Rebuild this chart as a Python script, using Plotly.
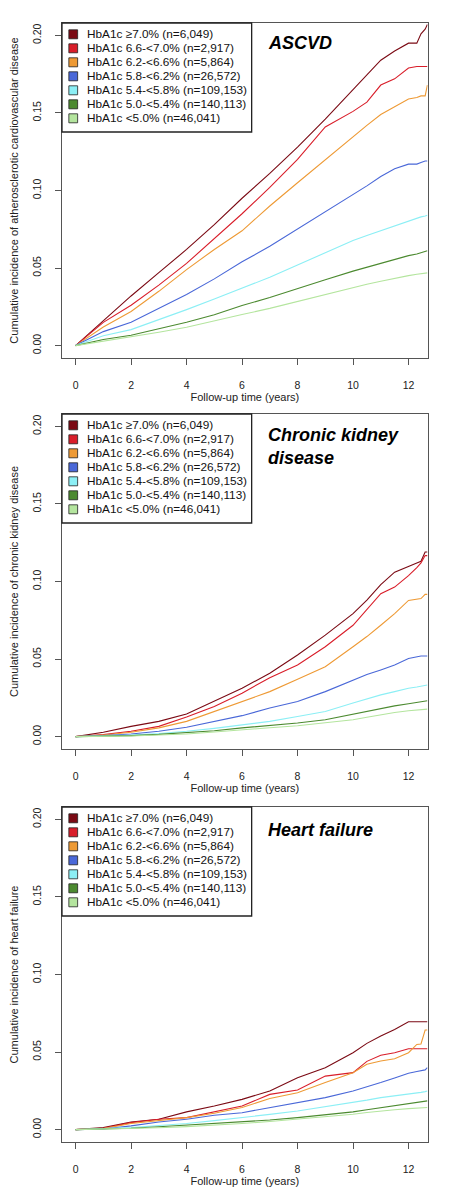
import plotly.graph_objects as go

# follow-up time grid (years) shared by every curve
years = [0, 1, 2, 3, 4, 5, 6, 7, 8, 9, 10, 10.5, 11, 11.5, 12, 12.3, 12.45, 12.6, 12.68]

group_labels = [
    "HbA1c ≥7.0% (n=6,049)",
    "HbA1c 6.6-<7.0% (n=2,917)",
    "HbA1c 6.2-<6.6% (n=5,864)",
    "HbA1c 5.8-<6.2% (n=26,572)",
    "HbA1c 5.4-<5.8% (n=109,153)",
    "HbA1c 5.0-<5.4% (n=140,113)",
    "HbA1c <5.0% (n=46,041)",
]
group_colors = ["#7B0A14", "#D91E2A", "#EE9A35", "#4A68D8", "#8CEFF5", "#4C8A30", "#B4E59E"]

# ASCVD
ascvd_70 = [0, .016, .032, .047, .062, .078, .095, .111, .128, .146, .165, .174, .184, .190, .195, .195, .201, .204, .207]
ascvd_66 = [0, .015, .026, .039, .053, .069, .085, .102, .120, .141, .151, .157, .168, .172, .179, .180, .180, .180, .180]
ascvd_62 = [0, .012, .022, .035, .049, .062, .074, .090, .105, .120, .135, .142, .149, .154, .159, .160, .161, .161, .168]
ascvd_58 = [0, .009, .015, .024, .033, .043, .054, .064, .075, .086, .097, .103, .109, .114, .117, .117, .118, .119, .119]
ascvd_54 = [0, .0064, .0103, .0167, .0232, .0301, .037, .044, .052, .060, .0677, .071, .074, .077, .0805, .082, .083, .0835, .084]
ascvd_50 = [0, .0039, .0067, .0107, .015, .0199, .0258, .031, .037, .0425, .048, .0505, .053, .0555, .058, .059, .060, .0607, .0612]
ascvd_lt50 = [0, .0028, .0054, .0086, .0118, .0157, .020, .024, .0285, .033, .0375, .0395, .0415, .0435, .0451, .046, .0463, .0466, .0469]

# chronic kidney disease
ckd_70 = [0, .0028, .0066, .0098, .0145, .0226, .0312, .0408, .0526, .0654, .0793, .088, .098, .106, .110, .112, .113, .119, .119]
ckd_66 = [0, .0013, .0034, .0066, .0126, .0194, .028, .038, .0462, .0579, .0718, .082, .0921, .0964, .1038, .109, .112, .1167, .1167]
ckd_62 = [0, .001, .0028, .0056, .0098, .0162, .0226, .029, .037, .0451, .0579, .0645, .0718, .0793, .0878, .0889, .089, .0917, .0917]
ckd_58 = [0, .0006, .0017, .0034, .006, .0098, .0135, .0184, .0226, .029, .0365, .040, .043, .0462, .0504, .0515, .052, .052, .052]
ckd_54 = [0, .0004, .001, .002, .0034, .0053, .0077, .0098, .013, .0162, .0216, .0243, .0269, .029, .0312, .032, .0325, .033, .0333]
ckd_50 = [0, .0002, .0006, .0014, .0024, .0038, .0056, .0071, .0088, .0109, .0145, .0165, .0184, .0198, .0212, .022, .0225, .0229, .0231]
ckd_lt50 = [0, .0001, .0004, .001, .0017, .003, .0045, .0057, .007, .0088, .0109, .0125, .0141, .0155, .0167, .0171, .0173, .0175, .0177]

# heart failure
hf_70 = [0, .0013, .0049, .0067, .0114, .0152, .0195, .0249, .0335, .0399, .0496, .0556, .0603, .0646, .0695, .0695, .0695, .0695, .0695]
hf_66 = [0, .0009, .0045, .0067, .0077, .0114, .0152, .0227, .0255, .0345, .0367, .044, .0479, .0496, .0521, .0521, .0521, .0521, .0521]
hf_62 = [0, .0006, .0039, .006, .0077, .0105, .0142, .020, .0238, .0303, .0367, .0421, .0442, .0457, .0496, .0549, .0552, .0642, .0642]
hf_58 = [0, .0004, .0024, .0049, .0067, .0092, .0109, .0142, .0174, .0206, .0249, .0275, .0303, .0333, .0363, .0375, .038, .0385, .040]
hf_54 = [0, .0006, .0013, .0026, .0039, .0058, .0077, .0098, .012, .0147, .0174, .019, .0206, .0217, .0227, .0235, .024, .0245, .0249]
hf_50 = [0, .0004, .0009, .0018, .0028, .0038, .0049, .0062, .0077, .0095, .0114, .0128, .0142, .0155, .0167, .0174, .0178, .0182, .0185]
hf_lt50 = [0, .0003, .0006, .0012, .0019, .0028, .0039, .0052, .0067, .0083, .0099, .011, .012, .0128, .0135, .0138, .014, .0141, .0142]

panels = [
    ("ASCVD", "Cumulative incidence of atherosclerotic cardiovascular disease",
     [ascvd_70, ascvd_66, ascvd_62, ascvd_58, ascvd_54, ascvd_50, ascvd_lt50], 20),
    ("Chronic kidney<br>disease", "Cumulative incidence of chronic kidney disease",
     [ckd_70, ckd_66, ckd_62, ckd_58, ckd_54, ckd_50, ckd_lt50], 33),
    ("Heart failure", "Cumulative incidence of heart failure",
     [hf_70, hf_66, hf_62, hf_58, hf_54, hf_50, hf_lt50], 23),
]

# page body has an 8px margin, so the figure is drawn 8px in from the window corner
OFF = 8
W, H = 464 - 2 * OFF, 1200 - 2 * OFF
LEFT, RIGHT = 53, 427
TOPS = [23, 414, 807]
PANEL_H = 335
FONT = "Liberation Sans, Arial, Helvetica, sans-serif"


def px_x(p):
    # window pixel -> paper fraction
    return (p - OFF) / W


def px_y(p):
    return 1 - (p - OFF) / H


fig = go.Figure()
shapes = []
annotations = []
layout = {}

for i, (title, ytitle, series, title_off) in enumerate(panels):
    n = "" if i == 0 else str(i + 1)
    top = TOPS[i]
    for values, color, label in zip(series, group_colors, group_labels):
        fig.add_trace(go.Scatter(
            x=years, y=values, mode="lines", name=label,
            line=dict(color=color, width=1.1),
            xaxis="x" + n, yaxis="y" + n, showlegend=False,
        ))

    axis_common = dict(
        ticks="outside", ticklen=6, tickwidth=1, tickcolor="#555",
        showline=True, linecolor="#555", linewidth=1.2, mirror=True,
        showgrid=False, zeroline=False,
        tickfont=dict(family=FONT, size=10.5, color="#222"),
    )
    layout["xaxis" + n] = dict(
        axis_common, domain=[px_x(LEFT), px_x(RIGHT)], anchor="y" + n,
        range=[-0.49, 12.69], tickvals=[0, 2, 4, 6, 8, 10, 12], ticklabelstandoff=11,
        title=dict(text="Follow-up time (years)", standoff=3,
                   font=dict(family=FONT, size=11, color="#222")),
    )
    layout["yaxis" + n] = dict(
        axis_common, domain=[px_y(top + PANEL_H), px_y(top)], anchor="x" + n,
        range=[-0.008, 0.208], tickvals=[0, 0.05, 0.10, 0.15, 0.20], tickformat=".2f",
        tickangle=-90, ticklabelstandoff=10,
        title=dict(text=ytitle, standoff=15,
                   font=dict(family=FONT, size=11, color="#222")),
    )

    # panel title
    annotations.append(dict(
        text="<b><i>" + title + "</i></b>", xref="paper", yref="paper",
        x=px_x(262), y=px_y(top + title_off), xanchor="left", yanchor="middle",
        align="left", showarrow=False, font=dict(family=FONT, size=18, color="#000"),
    ))

    # legend box in the top-left corner
    shapes.append(dict(
        type="rect", xref="paper", yref="paper",
        x0=px_x(LEFT), x1=px_x(247), y0=px_y(top + 109), y1=px_y(top),
        line=dict(color="#222", width=1.3), fillcolor="white", layer="above",
    ))
    for k, (label, color) in enumerate(zip(group_labels, group_colors)):
        cy = top + 11.3 + 14.0 * k
        shapes.append(dict(
            type="rect", xref="paper", yref="paper",
            x0=px_x(60), x1=px_x(69), y0=px_y(cy + 4.5), y1=px_y(cy - 4.5),
            line=dict(color="#222", width=0.8), fillcolor=color, layer="above",
        ))
        annotations.append(dict(
            text=label, xref="paper", yref="paper",
            x=px_x(76.5), y=px_y(cy), xanchor="left", yanchor="middle",
            showarrow=False, font=dict(family=FONT, size=11.8, color="#111"),
        ))

fig.update_layout(
    width=W, height=H,
    margin=dict(l=0, r=0, t=0, b=0),
    paper_bgcolor="white", plot_bgcolor="white",
    showlegend=False,
    shapes=shapes, annotations=annotations,
    **layout,
)

fig.write_html("out.html")
